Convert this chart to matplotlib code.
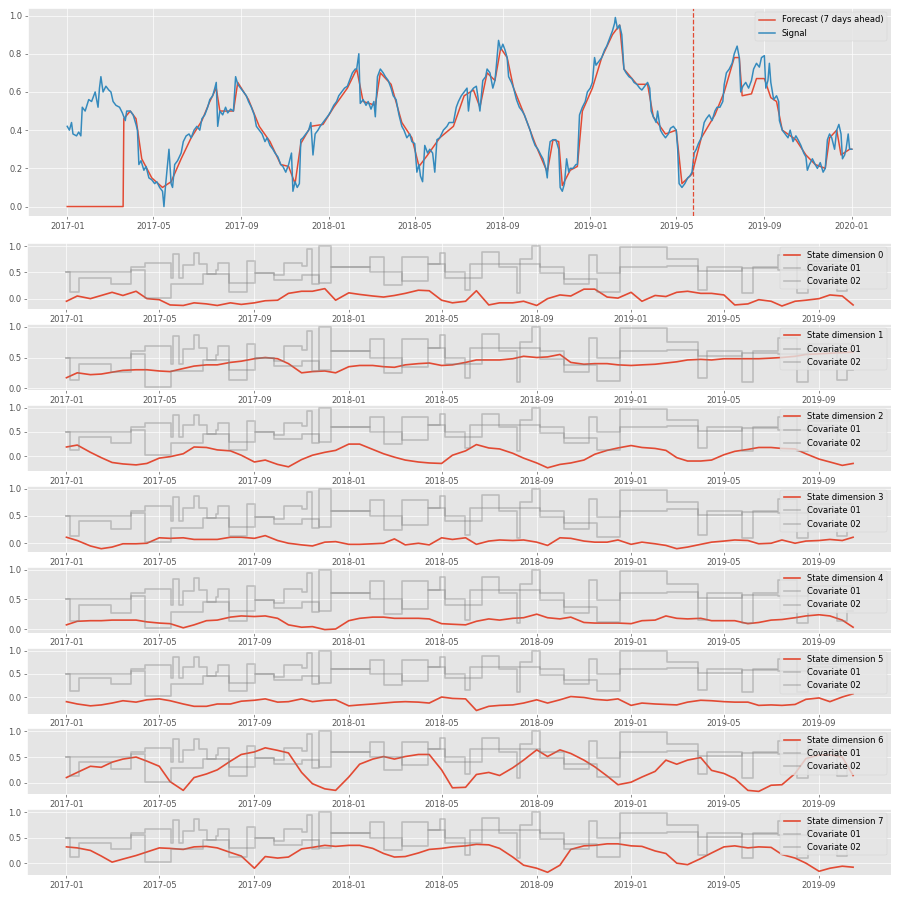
import pandas as pd
import matplotlib
matplotlib.use("Agg")
import matplotlib.pyplot as plt
import matplotlib.dates as mdates
from matplotlib.ticker import MultipleLocator

plt.style.use("ggplot")

start = pd.Timestamp("2017-01-01")

# signal, days since 2017-01-01
signal_day = [0, 3, 6, 8, 13, 16, 19, 21, 25, 30, 34, 39, 43, 45, 47, 50, 54, 58, 61, 64, 68, 73, 77, 81, 83, 88,
              92, 96, 98, 100, 103, 107, 110, 114, 118, 122, 125, 129, 133, 135, 137, 140, 142, 145, 147, 150, 154,
              159, 162, 166, 170, 173, 177, 181, 185, 188, 192, 196, 199, 203, 206, 208, 210, 213, 217, 221, 224,
              228, 232, 235, 238, 242, 246, 250, 253, 257, 261, 264, 268, 272, 276, 279, 283, 287, 290, 294, 298,
              301, 305, 309, 313, 315, 318, 321, 324, 326, 329, 333, 337, 340, 343, 346, 350, 353, 357, 361, 365,
              368, 372, 376, 379, 383, 387, 391, 394, 398, 402, 404, 407, 409, 413, 417, 420, 424, 428, 430, 433,
              437, 441, 444, 448, 452, 455, 459, 463, 467, 470, 474, 478, 481, 485, 488, 491, 493, 496, 499, 503,
              506, 510, 513, 516, 520, 525, 530, 533,
              539, 543, 546, 550, 554, 558, 560, 563, 567, 571, 573, 576, 580, 584, 586, 590, 594, 597, 599, 602,
              605, 608, 611, 614, 616, 620, 623, 627, 631, 635, 638, 642, 646, 649, 653, 657, 661, 664, 668, 670,
              672, 674, 678, 682, 686, 688, 691, 694, 697, 700, 702, 706, 710, 712, 715, 719, 723, 726, 730, 733,
              736, 738, 742, 746, 750, 753, 757, 761, 764, 765, 768, 771, 774, 777, 780, 784, 788, 791, 795, 799,
              802, 806, 810, 813, 815, 818, 822, 824, 828, 831, 835, 839, 842, 846, 850, 852, 854, 858, 862, 866,
              869, 872, 875, 878, 881, 885, 889, 892, 896, 900, 904, 907, 911, 915, 917, 920, 924, 928, 931, 935,
              938, 940, 943, 947, 951, 955, 958, 962, 966, 969, 973, 975, 978, 980, 982, 986, 990, 993, 994, 998,
              1002, 1006, 1009, 1013, 1017, 1020, 1024, 1028, 1031, 1033, 1036, 1040, 1044, 1047, 1051, 1055,
              1058, 1061, 1064, 1067, 1071, 1074, 1077, 1080, 1082, 1085, 1087, 1090, 1092, 1095]
signal_val = [0.42, 0.40, 0.44, 0.38, 0.37, 0.39, 0.37, 0.52, 0.50, 0.56, 0.55, 0.60, 0.52, 0.62, 0.68, 0.60, 0.63,
              0.61, 0.60, 0.55, 0.53, 0.52, 0.49, 0.45, 0.50, 0.50, 0.48, 0.43, 0.40, 0.22, 0.24, 0.19, 0.21, 0.15,
              0.14, 0.12, 0.13, 0.10, 0.08, 0.00, 0.10, 0.22, 0.30, 0.12, 0.10, 0.22, 0.24, 0.28, 0.34, 0.37, 0.38,
              0.36, 0.40, 0.42, 0.40, 0.46, 0.48, 0.52, 0.56, 0.58, 0.62, 0.65, 0.42, 0.50, 0.48, 0.52, 0.49, 0.51,
              0.50, 0.68, 0.64, 0.62, 0.60, 0.58, 0.55, 0.52, 0.48, 0.42, 0.40, 0.38, 0.34, 0.36, 0.32, 0.30, 0.28,
              0.26, 0.22, 0.21, 0.18, 0.22, 0.28, 0.08, 0.13, 0.10, 0.12, 0.35, 0.36, 0.38, 0.40, 0.44, 0.27, 0.38,
              0.40, 0.42, 0.44, 0.46, 0.48, 0.50, 0.53, 0.55, 0.58, 0.60, 0.62, 0.63, 0.66, 0.70, 0.72, 0.72, 0.80,
              0.54, 0.56, 0.53, 0.55, 0.51, 0.55, 0.47, 0.68, 0.72, 0.70, 0.68, 0.66, 0.62, 0.58, 0.56, 0.48, 0.42,
              0.40, 0.36, 0.38, 0.34, 0.33, 0.18, 0.22, 0.16, 0.13, 0.32, 0.28, 0.30, 0.28, 0.18, 0.35, 0.36, 0.40,
              0.42, 0.44,
              0.44, 0.52, 0.55, 0.58, 0.60, 0.62, 0.50, 0.60, 0.62, 0.63, 0.58, 0.50, 0.66, 0.68, 0.72, 0.70, 0.62,
              0.66, 0.74, 0.87, 0.82, 0.85, 0.82, 0.78, 0.68, 0.65, 0.62, 0.56, 0.52, 0.50, 0.48, 0.44, 0.40, 0.36,
              0.32, 0.30, 0.27, 0.25, 0.20, 0.15, 0.28, 0.34, 0.35, 0.35, 0.30, 0.10, 0.08, 0.12, 0.25, 0.18, 0.20,
              0.20, 0.22, 0.22, 0.48, 0.52, 0.55, 0.60, 0.62, 0.65, 0.78, 0.74, 0.76, 0.78, 0.82, 0.84, 0.88, 0.92,
              0.96, 0.99, 0.93, 0.95, 0.90, 0.72, 0.70, 0.68, 0.67, 0.65, 0.64, 0.62, 0.61, 0.63, 0.65, 0.62, 0.50,
              0.47, 0.44, 0.50, 0.40, 0.38, 0.36, 0.38, 0.41, 0.42, 0.40, 0.30, 0.12, 0.10, 0.12, 0.15, 0.16, 0.18,
              0.28, 0.30, 0.33, 0.36, 0.44, 0.46, 0.48, 0.45, 0.50, 0.52, 0.52, 0.55, 0.64, 0.70, 0.72, 0.75, 0.80,
              0.84, 0.78, 0.60, 0.63, 0.65, 0.62, 0.66, 0.72, 0.75, 0.73, 0.78, 0.79, 0.62, 0.66, 0.75, 0.65, 0.56,
              0.58, 0.55, 0.45, 0.40, 0.38, 0.36, 0.40, 0.34, 0.37, 0.35, 0.32, 0.28, 0.26, 0.19, 0.22, 0.25, 0.22,
              0.20, 0.23, 0.18, 0.20, 0.35, 0.38, 0.36, 0.30, 0.40, 0.43, 0.38, 0.25, 0.27, 0.30, 0.38, 0.30, 0.30]

forecast_day = [0, 78, 79, 88, 96, 104, 118, 133, 145, 159, 173, 188, 199, 208, 213, 232, 238, 253, 268, 283, 298,
                309, 318, 326, 340, 357, 372, 391, 404, 413, 430, 437, 452, 467, 481, 491, 503, 520, 539, 554, 567,
                576, 586, 597, 605, 614, 623, 638, 653, 670, 678, 686, 691, 702, 712, 719, 733, 746, 761, 771, 777,
                795, 810, 818, 835, 850, 858, 872, 885, 904, 917, 931, 938, 942, 955, 962, 973, 982, 990, 998, 1017,
                1031, 1044, 1058, 1064, 1074, 1080, 1092, 1095]
forecast_val = [0.0, 0.0, 0.46, 0.50, 0.46, 0.25, 0.15, 0.10, 0.13, 0.25, 0.36, 0.45, 0.55, 0.62, 0.50, 0.50, 0.65,
                0.56, 0.42, 0.34, 0.22, 0.21, 0.12, 0.33, 0.42, 0.43, 0.52, 0.62, 0.72, 0.55, 0.53, 0.70, 0.64, 0.44,
                0.36, 0.21, 0.27, 0.36, 0.42, 0.58, 0.61, 0.52, 0.70, 0.66, 0.83, 0.78, 0.62, 0.48, 0.33, 0.18, 0.35,
                0.34, 0.11, 0.19, 0.21, 0.50, 0.62, 0.78, 0.90, 0.95, 0.72, 0.64, 0.64, 0.47, 0.38, 0.40, 0.12, 0.17,
                0.36, 0.48, 0.60, 0.78, 0.78, 0.58, 0.59, 0.67, 0.67, 0.57, 0.55, 0.40, 0.35, 0.27, 0.22, 0.20, 0.36,
                0.40, 0.27, 0.30, 0.30]
forecast_start = "2019-05-25"

# states on the 1st and 15th of each month, 2017-01-01 .. 2019-10-15
state_dates = pd.to_datetime([f"{y}-{m:02d}-{d:02d}" for y in (2017, 2018, 2019)
                              for m in range(1, 13) for d in (1, 15)
                              if (y, m) <= (2019, 10)])

dim0 = [-0.05, 0.05, 0.0, 0.06, 0.12, 0.06, 0.14, 0.0, -0.02, -0.12, -0.13, -0.08, -0.1, -0.13, -0.08, -0.11,
        -0.08, -0.04, -0.03, 0.1, 0.14, 0.14, 0.19, -0.03,
        0.11, 0.08, 0.05, 0.03, 0.06, 0.1, 0.16, 0.15, -0.03, -0.08, -0.05, 0.15, -0.12, -0.08, -0.08, -0.05,
        -0.13, 0.0, 0.07, 0.05, 0.18, 0.18, 0.03, 0.01,
        0.12, -0.05, 0.06, 0.04, 0.12, 0.14, 0.1, 0.1, 0.07, -0.12, -0.1, -0.02, -0.05, -0.14, -0.05, -0.03,
        0.0, 0.07, 0.05, -0.12]
dim1 = [0.17, 0.25, 0.22, 0.23, 0.26, 0.29, 0.3, 0.3, 0.28, 0.27, 0.32, 0.36, 0.38, 0.38, 0.42, 0.44, 0.48, 0.5,
        0.48, 0.4, 0.25, 0.27, 0.28, 0.25,
        0.35, 0.37, 0.37, 0.35, 0.34, 0.38, 0.4, 0.41, 0.37, 0.38, 0.42, 0.46, 0.46, 0.46, 0.48, 0.52, 0.5, 0.51,
        0.55, 0.42, 0.39, 0.4, 0.4, 0.38,
        0.37, 0.38, 0.39, 0.41, 0.43, 0.46, 0.47, 0.46, 0.48, 0.48, 0.48, 0.48, 0.49, 0.5, 0.52, 0.55, 0.56,
        0.57, 0.58, 0.59]
dim2 = [0.19, 0.23, 0.08, -0.03, -0.13, -0.16, -0.18, -0.15, -0.04, -0.01, 0.05, 0.19, 0.18, 0.13, 0.11, 0.02,
        -0.12, -0.08, -0.17, -0.22, -0.07, 0.02, 0.08, 0.12,
        0.25, 0.25, 0.14, 0.05, -0.02, -0.08, -0.12, -0.14, -0.15, 0.02, 0.11, 0.24, 0.17, 0.15, 0.06, -0.04,
        -0.14, -0.24, -0.17, -0.14, -0.08, 0.04, 0.12, 0.17,
        0.22, 0.18, 0.16, 0.12, -0.03, -0.1, -0.1, -0.08, 0.03, 0.1, 0.14, 0.18, 0.18, 0.16, 0.15, 0.05, -0.06,
        -0.12, -0.19, -0.15]
dim3 = [0.11, 0.05, -0.05, -0.1, -0.07, -0.01, -0.01, 0.0, 0.1, 0.09, 0.1, 0.07, 0.07, 0.07, 0.11, 0.11, 0.09,
        0.14, 0.05, 0.0, -0.03, -0.05, 0.02, 0.03,
        -0.02, -0.02, -0.01, 0.0, 0.08, -0.03, 0.0, -0.03, 0.1, 0.07, 0.1, -0.02, 0.04, 0.06, 0.05, 0.06, 0.02,
        -0.04, 0.1, 0.09, 0.04, 0.02, 0.02, 0.06,
        -0.02, 0.02, -0.01, -0.04, -0.1, -0.07, -0.02, 0.02, 0.04, 0.06, 0.05, -0.01, 0.0, 0.06, 0.0, 0.04, 0.05,
        0.07, 0.05, 0.11]
dim4 = [0.07, 0.13, 0.14, 0.14, 0.15, 0.15, 0.15, 0.12, 0.1, 0.09, 0.02, 0.07, 0.14, 0.15, 0.2, 0.22, 0.21, 0.22,
        0.18, 0.07, 0.03, 0.04, -0.01, 0.0,
        0.14, 0.18, 0.2, 0.2, 0.18, 0.18, 0.18, 0.17, 0.09, 0.08, 0.07, 0.13, 0.17, 0.15, 0.18, 0.19, 0.25, 0.19,
        0.17, 0.2, 0.11, 0.1, 0.1, 0.1,
        0.09, 0.14, 0.15, 0.22, 0.18, 0.17, 0.18, 0.14, 0.14, 0.14, 0.09, 0.11, 0.15, 0.16, 0.19, 0.22, 0.24,
        0.22, 0.15, 0.03]
dim5 = [-0.1, -0.15, -0.19, -0.17, -0.13, -0.08, -0.11, -0.06, -0.04, -0.08, -0.15, -0.2, -0.2, -0.15, -0.15,
        -0.09, -0.07, -0.04, -0.11, -0.1, -0.04, -0.1, -0.07, -0.06,
        -0.19, -0.17, -0.15, -0.13, -0.11, -0.1, -0.11, -0.13, 0.0, -0.03, -0.04, -0.29, -0.2, -0.18, -0.17,
        -0.13, -0.06, -0.13, -0.06, 0.01, -0.01, -0.05, -0.07, -0.04,
        -0.18, -0.13, -0.15, -0.16, -0.17, -0.11, -0.07, -0.08, -0.1, -0.11, -0.11, -0.18, -0.17, -0.18, -0.16,
        -0.05, -0.02, -0.1, 0.0, 0.07]
dim6 = [0.1, 0.2, 0.32, 0.3, 0.4, 0.46, 0.5, 0.42, 0.32, 0.02, -0.15, 0.1, 0.17, 0.25, 0.42, 0.55, 0.6, 0.68,
        0.63, 0.58, 0.2, -0.02, -0.12, -0.15,
        0.11, 0.36, 0.46, 0.51, 0.46, 0.51, 0.55, 0.55, 0.25, -0.1, -0.09, 0.16, 0.2, 0.14, 0.29, 0.44, 0.64,
        0.51, 0.64, 0.57, 0.44, 0.31, 0.13, -0.04,
        0.01, 0.11, 0.22, 0.44, 0.36, 0.44, 0.49, 0.24, 0.18, 0.08, -0.15, -0.17, -0.05, -0.04, 0.18, 0.47,
        0.54, 0.54, 0.5, 0.14]
dim7 = [0.32, 0.3, 0.25, 0.14, 0.02, 0.08, 0.15, 0.22, 0.3, 0.29, 0.27, 0.32, 0.33, 0.3, 0.21, 0.14, -0.1,
        0.13, 0.1, 0.12, 0.28, 0.31, 0.35, 0.33,
        0.35, 0.35, 0.29, 0.19, 0.12, 0.13, 0.2, 0.27, 0.29, 0.32, 0.34, 0.37, 0.36, 0.29, 0.12, -0.04, -0.1,
        -0.18, -0.04, 0.27, 0.34, 0.35, 0.38, 0.38,
        0.34, 0.33, 0.24, 0.19, 0.0, -0.03, 0.09, 0.2, 0.32, 0.34, 0.3, 0.32, 0.31, 0.17, 0.1, 0.0, -0.16,
        -0.1, -0.06, -0.08]
states = [dim0, dim1, dim2, dim3, dim4, dim5, dim6, dim7]

# covariates, step values starting at the given day
cov01_day = [0, 5, 16, 57, 83, 102, 135, 138, 146, 151, 165, 172, 182, 193, 196, 210, 233, 244, 268, 281, 304,
             311, 317, 326, 342, 393, 410, 434, 468, 483, 490, 515, 522, 537, 559, 582, 587, 602, 612, 643, 675,
             686, 716, 776, 817, 828, 873, 888, 920, 944, 959, 996, 1009, 1017]
cov01_val = [0.5, 0.13, 0.4, 0.27, 0.6, 0.68, 0.4, 0.85, 0.4, 0.64, 0.86, 0.65, 0.46, 0.54, 0.68, 0.13, 0.72, 0.49,
             0.44, 0.68, 0.62, 0.94, 0.28, 1.0, 0.6, 0.8, 0.25, 0.8, 0.65, 0.87, 0.5, 0.16, 0.65, 0.88, 0.6, 0.1,
             0.75, 1.0, 0.6, 0.27, 0.82, 0.49, 0.98, 0.75, 0.16, 0.6, 0.1, 0.6, 0.82, 0.1, 0.65, 0.14, 0.3, 0.3]
cov02_day = [0, 83, 102, 135, 176, 210, 244, 268, 304, 326, 342, 393, 434, 468, 490, 537, 612, 643, 686, 716, 776,
             817, 873, 920, 959, 1017]
cov02_val = [0.5, 0.55, 0.02, 0.28, 0.46, 0.3, 0.49, 0.36, 0.45, 0.3, 0.6, 0.5, 0.34, 0.65, 0.4, 0.65, 0.48,
             0.37, 0.12, 0.6, 0.62, 0.52, 0.58, 0.55, 0.72, 0.72]


def to_dates(days):
    return start + pd.to_timedelta(days, unit="D")


red = "#E24A33"
blue = "#348ABD"
cov_color = "grey"

fig = plt.figure(figsize=(15, 899 / 60), dpi=60)
W, H = 900, 899

ax = fig.add_axes([28 / W, 1 - 216 / H, 863 / W, 208 / H])
ax.plot(to_dates(forecast_day), forecast_val, color=red, lw=1.8, label="Forecast (7 days ahead)")
ax.plot(to_dates(signal_day), signal_val, color=blue, lw=1.8, label="Signal")
ax.axvline(pd.Timestamp(forecast_start), color=red, linestyle="--", lw=1.5)
ax.xaxis.set_major_locator(mdates.MonthLocator(bymonth=[1, 5, 9]))
ax.xaxis.set_major_formatter(mdates.DateFormatter("%Y-%m"))
ax.legend(loc="upper right")

cov01_dates = to_dates(cov01_day)
cov02_dates = to_dates(cov02_day)
for k, st in enumerate(states):
    top = 243 + k * 80.9
    a = fig.add_axes([27 / W, 1 - (top + 66) / H, 864 / W, 66 / H])
    a.plot(state_dates, st, color=red, lw=2, label=f"State dimension {k}")
    a.step(cov01_dates, cov01_val, where="post", color=cov_color, alpha=0.4, lw=2, label="Covariate 01")
    a.step(cov02_dates, cov02_val, where="post", color=cov_color, alpha=0.4, lw=2, label="Covariate 02")
    a.set_xlim(pd.Timestamp("2016-11-11"), pd.Timestamp("2019-12-03"))
    a.yaxis.set_major_locator(MultipleLocator(0.5))
    a.xaxis.set_major_locator(mdates.MonthLocator(bymonth=[1, 5, 9]))
    a.xaxis.set_major_formatter(mdates.DateFormatter("%Y-%m"))
    a.legend(loc="upper right")

fig.savefig("out.png", dpi=60)
